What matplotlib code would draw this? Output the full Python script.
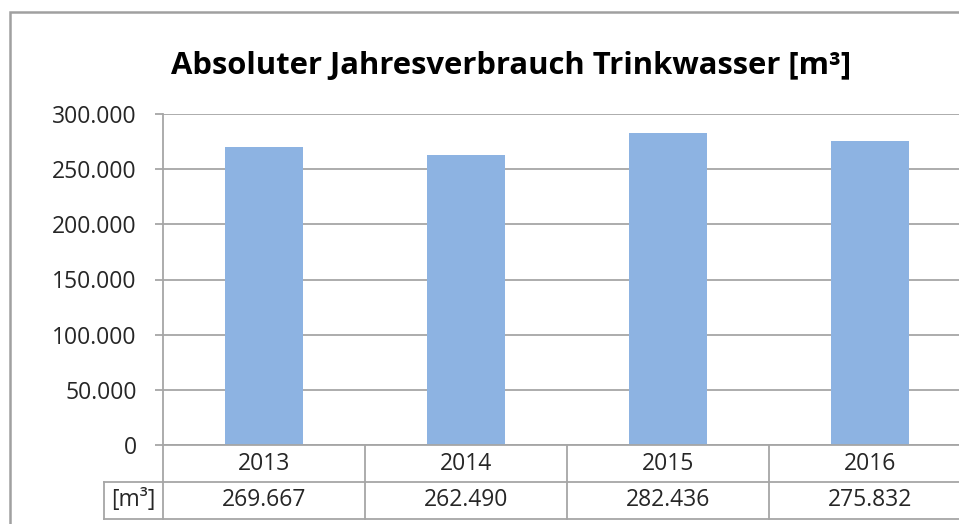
import matplotlib.pyplot as plt
import matplotlib.transforms as mtransforms
from matplotlib.patches import Rectangle

years = ["2013", "2014", "2015", "2016"]
verbrauch = [269667, 262490, 282436, 275832]
wert_labels = ["269.667", "262.490", "282.436", "275.832"]
yticks = [0, 50000, 100000, 150000, 200000, 250000, 300000]
ytick_labels = ["0", "50.000", "100.000", "150.000", "200.000", "250.000", "300.000"]
einheit = "[m³]"
titel = "Absoluter Jahresverbrauch Trinkwasser [m³]"

plt.rcParams['font.family'] = ['Open Sans', 'DejaVu Sans']
bar_color = "#8DB3E2"
grid_color = "#A6A6A6"
text_color = "#262626"

W, H = 959, 524
fig = plt.figure(figsize=(W / 100, H / 100), dpi=100)

# outer chart border (cut off on right and bottom like the screenshot)
fig.patches.append(Rectangle((10 / W, -0.1), 1.2, (H - 12) / H + 0.1,
                             transform=fig.transFigure, fill=False,
                             edgecolor="#A0A0A0", linewidth=1.8))

fig.text(511 / W, (H - 66) / H, titel, ha="center", va="center",
         fontsize=22.3, fontweight="bold", color="black")

ax = fig.add_axes([163 / W, (H - 445) / H, 4 * 202 / W, 331 / H])
x = range(len(years))
ax.bar(x, verbrauch, width=0.386, color=bar_color, zorder=2)
ax.set_xlim(-0.5, len(years) - 0.5)
ax.set_ylim(0, 300000)
ax.set_yticks(yticks)
ax.set_yticklabels(ytick_labels)
ax.set_xticks([])
ax.yaxis.grid(True, color=grid_color, linewidth=1.3, zorder=0)
ax.tick_params(axis="y", length=6, width=1.3, color=grid_color, pad=13,
               labelsize=16.5, labelcolor=text_color)
for s in ["top", "right"]:
    ax.spines[s].set_visible(False)
ax.spines["left"].set_color(grid_color)
ax.spines["left"].set_linewidth(1.3)
ax.spines["bottom"].set_color(grid_color)
ax.spines["bottom"].set_linewidth(1.3)

# data table below the plot
tr = mtransforms.blended_transform_factory(ax.transData, ax.transAxes)
row_h = 37 / 331
kw = dict(transform=tr, color=grid_color, linewidth=1.3, clip_on=False)
hdr_left = -0.5 - 59 / 202
ax.plot([-0.5, -0.5], [0, -2 * row_h], **kw)
ax.plot([hdr_left, len(years) - 0.5], [-row_h, -row_h], **kw)
ax.plot([hdr_left, len(years) - 0.5], [-2 * row_h, -2 * row_h], **kw)
ax.plot([hdr_left, hdr_left], [-row_h, -2 * row_h], **kw)
for i in range(len(years)):
    ax.plot([i + 0.5, i + 0.5], [0, -2 * row_h], **kw)
    ax.text(i, -0.5 * row_h, years[i], transform=tr, ha="center", va="center",
            fontsize=16.5, color=text_color)
    ax.text(i, -1.5 * row_h, wert_labels[i], transform=tr, ha="center", va="center",
            fontsize=16.5, color=text_color)
ax.text((hdr_left - 0.5) / 2, -1.5 * row_h, einheit, transform=tr,
        ha="center", va="center", fontsize=16.5, color=text_color)

fig.savefig("out.png", dpi=100)
